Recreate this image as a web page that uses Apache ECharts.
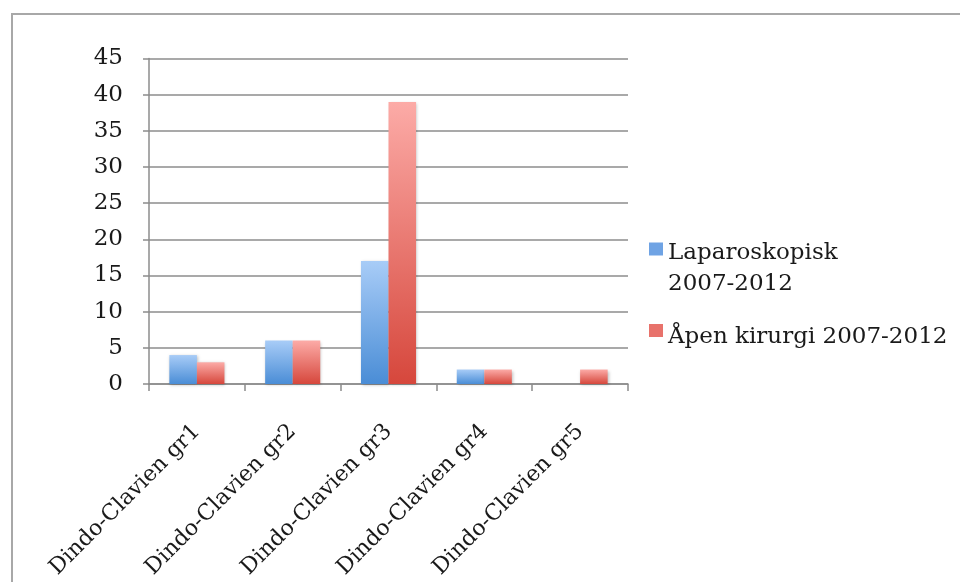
<!DOCTYPE html>
<html>
<head>
<meta charset="utf-8">
<script src="https://cdn.jsdelivr.net/npm/echarts@6/dist/echarts.min.js"></script>
<style>html,body{margin:0;padding:0;background:#fff}#c{width:960px;height:582px}</style>
</head>
<body>
<div id="c"></div>
<script>
const categories = ['Dindo-Clavien gr1','Dindo-Clavien gr2','Dindo-Clavien gr3','Dindo-Clavien gr4','Dindo-Clavien gr5'];
const seriesNames = ['Laparoskopisk 2007-2012','Åpen kirurgi 2007-2012'];
const laparoskopisk = [4, 6, 17, 2, 0];
const apenKirurgi = [3, 6, 39, 2, 2];
const yMax = 45, yStep = 5;

const FONT = 'DejaVu Serif';
const FS = 23;
const chart = echarts.init(document.getElementById('c'), null, {renderer:'canvas'});
function grad(top, bottom){
  return new echarts.graphic.LinearGradient(0,0,0,1,[{offset:0,color:top},{offset:1,color:bottom}]);
}
const barShadow = {shadowBlur:3, shadowColor:'rgba(0,0,0,0.25)', shadowOffsetY:1, shadowOffsetX:1};
const legendRich = {
  t:{fontFamily:FONT, fontSize:FS, color:'#1a1a1a', lineHeight:31},
  s1:{fontFamily:FONT, fontSize:4, lineHeight:39},
  s2:{fontFamily:FONT, fontSize:4, lineHeight:14}
};
chart.setOption({
  animation:false,
  graphic:[{type:'rect', shape:{x:12,y:14,width:1000,height:700}, style:{fill:'none', stroke:'#a8a8a8', lineWidth:2}, silent:true}],
  grid:{left:149, right:332, top:58.5, bottom:198, containLabel:false, outerBoundsMode:'none'},
  legend:[
    {data:[seriesNames[0]], left:649, top:216, orient:'vertical', padding:0, itemWidth:14, itemHeight:13,
     icon:'rect', formatter:n=>'{s1| }\n' + n.replace(/^(.*) (2007-2012)$/, '{t|$1}\n{t|$2}'),
     itemStyle:{color:'#6fa3e4'},
     textStyle:{fontFamily:FONT, fontSize:FS, color:'#1a1a1a', rich:legendRich}},
    {data:[seriesNames[1]], left:649, top:313, orient:'vertical', padding:0, itemWidth:14, itemHeight:13,
     icon:'rect', itemStyle:{color:'#e8726b'}, formatter:n=>'{s2| }\n{t|'+n+'}',
     textStyle:{fontFamily:FONT, fontSize:FS, color:'#1a1a1a', rich:legendRich}}
  ],
  xAxis:{type:'category', data:categories,
    axisLine:{lineStyle:{color:'#8c8c8c', width:1.5}},
    axisTick:{show:true, length:7, lineStyle:{color:'#8c8c8c', width:1.5}},
    axisLabel:{rotate:45, margin:44, fontFamily:FONT, fontSize:22, color:'#1a1a1a', interval:0}},
  yAxis:{type:'value', min:0, max:yMax, interval:yStep,
    axisLine:{show:true, lineStyle:{color:'#8c8c8c', width:1.5}},
    axisTick:{show:true, length:6, lineStyle:{color:'#8c8c8c', width:1.5}},
    splitLine:{lineStyle:{color:'#8c8c8c', width:1.5}},
    axisLabel:{margin:26, fontFamily:FONT, fontSize:FS, color:'#1a1a1a'}},
  series:[
    {name:seriesNames[0], type:'bar', data:laparoskopisk, barGap:'0%', barCategoryGap:'42.5%',
     itemStyle:Object.assign({color:grad('#a8ccf7','#4a8dd6')}, barShadow)},
    {name:seriesNames[1], type:'bar', data:apenKirurgi, barGap:'0%', barCategoryGap:'42.5%',
     itemStyle:Object.assign({color:grad('#fcaba7','#d6473c')}, barShadow)}
  ]
});
</script>
</body>
</html>
